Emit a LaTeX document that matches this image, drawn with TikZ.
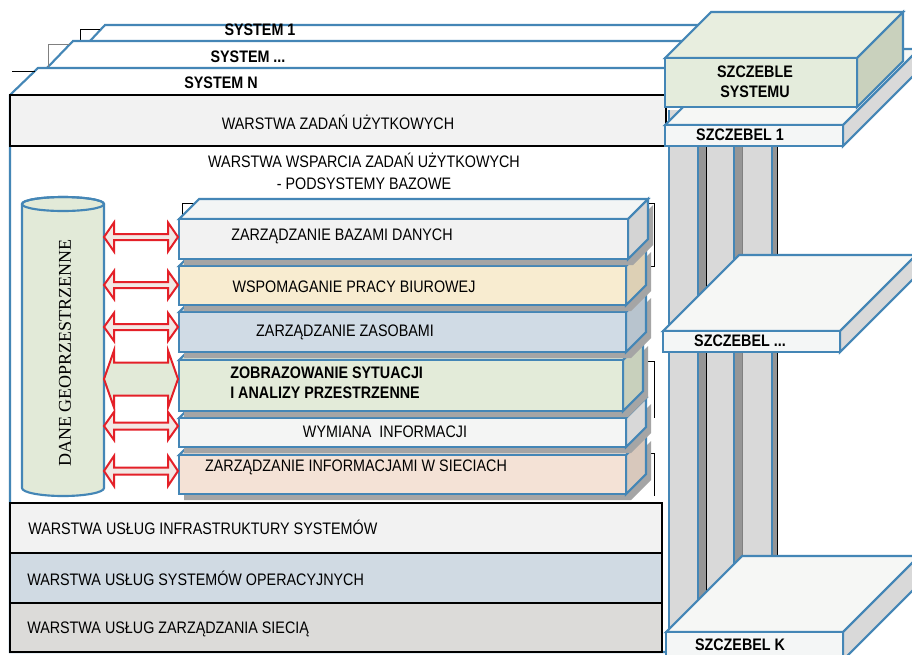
\documentclass[tikz,border=0pt]{standalone}
\usepackage{fontspec}
\setmainfont{Liberation Sans}[FakeStretch=0.86]
\newfontfamily\dserif{Liberation Serif}
\definecolor{sblue}{RGB}{68,134,182}
\definecolor{ared}{RGB}{228,32,40}
\definecolor{afill}{RGB}{242,232,228}
\definecolor{agreen}{RGB}{226,234,216}
\definecolor{lgray}{RGB}{242,242,242}
\definecolor{rowblue}{RGB}{208,218,227}
\definecolor{rowgray}{RGB}{220,219,217}
\definecolor{shad}{RGB}{165,165,165}
\definecolor{fA}{RGB}{242,242,242}\definecolor{sA}{RGB}{212,212,212}\definecolor{tA}{RGB}{243,245,245}
\definecolor{fB}{RGB}{248,236,208}\definecolor{sB}{RGB}{221,208,181}
\definecolor{fC}{RGB}{208,219,229}\definecolor{sC}{RGB}{184,196,206}
\definecolor{fD}{RGB}{227,235,217}\definecolor{sD}{RGB}{200,208,188}
\definecolor{fE}{RGB}{244,245,244}\definecolor{sE}{RGB}{216,216,216}
\definecolor{fF}{RGB}{244,226,214}\definecolor{sF}{RGB}{216,200,188}
\definecolor{gfront}{RGB}{228,236,220}\definecolor{gtop}{RGB}{232,238,223}\definecolor{gside}{RGB}{201,209,189}
\definecolor{slabf}{RGB}{244,246,246}\definecolor{slabt}{RGB}{246,247,245}\definecolor{slabs}{RGB}{217,217,217}
\definecolor{pil}{RGB}{217,217,217}\definecolor{pilsh}{RGB}{150,150,150}
\tikzset{
  bl/.style={draw=sblue,line width=1.6pt,line join=miter},
  blk/.style={draw=black,line width=1.4pt},
  txt/.style={inner sep=0pt,font=\fontsize{12.5}{16.5}\selectfont},
  btxt/.style={inner sep=0pt,font=\fontsize{12.5}{15}\selectfont\bfseries},
  dblarr/.style={draw=ared,line width=1.5pt,line join=miter},
}
\newcommand\subbox[6]{%
  \fill[shad] (184,#1+6) -- (#3+5,#1+6) -- (#3+25,#1-14) -- (#3+25,#2-14) -- (#3+5,#2+6) -- (184,#2+6) -- cycle;
  \filldraw[bl,fill=#6] (179,#1) -- (199,#1-20) -- (#3+20,#1-20) -- (#3,#1) -- cycle;
  \filldraw[bl,fill=#5] (#3,#1) -- (#3+20,#1-20) -- (#3+20,#2-20) -- (#3,#2) -- cycle;
  \filldraw[bl,fill=#4] (179,#1) rectangle (#3,#2);
}
\newcommand\slab[4]{% x1, x2, top, bottom
  \filldraw[bl,fill=slabt] (#1,#3) -- (#1+76,#3-76) -- (#2+76,#3-76) -- (#2,#3) -- cycle;
  \filldraw[bl,fill=slabs] (#2,#3) -- (#2+76,#3-76) -- (#2+76,#4-76) -- (#2,#4) -- cycle;
  \filldraw[bl,fill=slabf] (#1,#3) rectangle (#2,#4);
}
\begin{document}
\begin{tikzpicture}[x=0.75pt,y=-0.75pt]
\useasboundingbox (0,0) rectangle (912,654);
\clip (0,0) rectangle (912,654);
\fill[white] (0,0) rectangle (912,654);

% systems stack
\draw[bl] (720,25) -- (105,25) -- (90,41);
\draw[line width=0.5pt] (80,41) -- (80,29.5) -- (100,29.5);
\node[btxt] (s1) at (260,30) {SYSTEM 1};
\draw[bl] (720,41) -- (73,41) -- (47,68);
\draw[gray,line width=0.5pt] (48,68) -- (48,44) -- (70,44);
\node[btxt] (s2) at (248,57) {SYSTEM ...};
\draw[bl] (700,68) -- (38,68) -- (10,95) -- (10,652) -- (700,652);
\draw[line width=0.5pt] (12,71) -- (35,71);
\node[btxt] (s3) at (221,83) {SYSTEM N};

% top layer
\filldraw[blk,fill=lgray] (10,95) rectangle (666,146);
\node[txt] (wz) at (338,122) {WARSTWA ZADAŃ UŻYTKOWYCH};

\node[txt,align=center] (ws) at (364,171) {WARSTWA WSPARCIA ZADAŃ UŻYTKOWYCH\\- PODSYSTEMY BAZOWE};

% artifact frames behind subsystem boxes
\draw[line width=0.6pt] (182,219) -- (182,203) -- (654,203) -- (654,266) -- (620,266);
\draw[line width=0.6pt] (182,361) -- (654,361) -- (654,418);
\draw[line width=0.6pt] (182,453) -- (654,453) -- (654,496);

% subsystem boxes (bottom to top)
\subbox{455}{494}{626}{fF}{sF}{fF}
\subbox{418}{447}{626}{fE}{sE}{fE}
\subbox{360}{411}{623}{fD}{sD}{fD}
\subbox{312}{352}{626}{fC}{sC}{fC}
\subbox{266}{305}{626}{fB}{sB}{fB}
\subbox{219}{259}{628}{fA}{sA}{tA}

\node[txt] (b1) at (342,236) {ZARZĄDZANIE BAZAMI DANYCH};
\node[txt] (b2) at (354,287) {WSPOMAGANIE PRACY BIUROWEJ};
\node[txt] (b3) at (345,332) {ZARZĄDZANIE ZASOBAMI};
\node[btxt,align=left,anchor=west,font=\fontsize{12.5}{15}\selectfont\bfseries] (b4) at (230,383) {ZOBRAZOWANIE SYTUACJI\\I ANALIZY PRZESTRZENNE};
\node[txt] (b5) at (385,432) {WYMIANA\ \ INFORMACJI};
\node[txt] (b6) at (356,467) {ZARZĄDZANIE INFORMACJAMI W SIECIACH};

% cylinder
\filldraw[bl,fill=agreen] (22,204) -- (22,488) arc[start angle=180,end angle=0,x radius=41,y radius=8] -- (104,204) arc[start angle=0,end angle=-180,x radius=41,y radius=7] -- cycle;
\draw[bl] (63,204) ellipse[x radius=41,y radius=7];
\node[inner sep=0pt,rotate=90,font=\dserif\fontsize{13.5}{16}\selectfont] (dane) at (65,353) {DANE GEOPRZESTRZENNE};

% double arrows
\foreach \c/\h/\s/\f in {237/29/6/afill,285/28/6/afill,327/28/6/afill,379/57/33/agreen,426/28/7/afill,471/30/7/afill}{
  \filldraw[dblarr,fill=\f] (104,\c) -- (114,\c-\h/2) -- (114,\c-\s/2) -- (168,\c-\s/2) -- (168,\c-\h/2) -- (178,\c)
     -- (168,\c+\h/2) -- (168,\c+\s/2) -- (114,\c+\s/2) -- (114,\c+\h/2) -- cycle;
}

% bottom layers
\filldraw[blk,fill=lgray] (10,503) rectangle (662,553);
\filldraw[blk,fill=rowblue] (10,553) rectangle (662,603);
\filldraw[blk,fill=rowgray] (10,603) rectangle (662,652);
\node[txt,anchor=west] (l1) at (28,527) {WARSTWA USŁUG INFRASTRUKTURY SYSTEMÓW};
\node[txt,anchor=west] (l2) at (27,578) {WARSTWA USŁUG SYSTEMÓW OPERACYJNYCH};
\node[txt,anchor=west] (l3) at (27,629) {WARSTWA USŁUG ZARZĄDZANIA SIECIĄ};

% pillars
\fill[pil] (669,110) rectangle (698,645);
\fill[pilsh] (698,110) rectangle (706,645);
\fill[pil] (706,110) rectangle (734,645);
\fill[pilsh] (734,110) rectangle (742,645);
\fill[pil] (742,110) rectangle (772,645);
\fill[pilsh] (772,110) rectangle (777,645);
\draw[sblue,line width=1.6pt] (669,110) -- (669,645) (698,110) -- (698,645) (734,110) -- (734,645) (772,110) -- (772,645);
\draw[line width=0.6pt] (706,110) -- (706,645) (777,110) -- (777,645);
\draw[gray,line width=0.6pt] (742,110) -- (742,645);

% levels
\slab{666}{843}{632}{660}
\node[btxt] (sk) at (740,645) {SZCZEBEL K};
\slab{663}{840}{331}{352}
\node[btxt] (sd) at (740,341) {SZCZEBEL ...};
\slab{665}{843}{125}{146}
\node[btxt] (sa) at (740,135) {SZCZEBEL 1};

% levels box
\filldraw[bl,fill=gtop] (665,58) -- (711,12) -- (903,12) -- (857,58) -- cycle;
\filldraw[bl,fill=gside] (857,58) -- (903,12) -- (903,61) -- (857,107) -- cycle;
\filldraw[bl,fill=gfront] (665,58) rectangle (857,107);
\node[btxt,align=center,font=\fontsize{12.5}{15}\selectfont\bfseries] (szs) at (755,82) {SZCZEBLE\\SYSTEMU};
\end{tikzpicture}
\end{document}
